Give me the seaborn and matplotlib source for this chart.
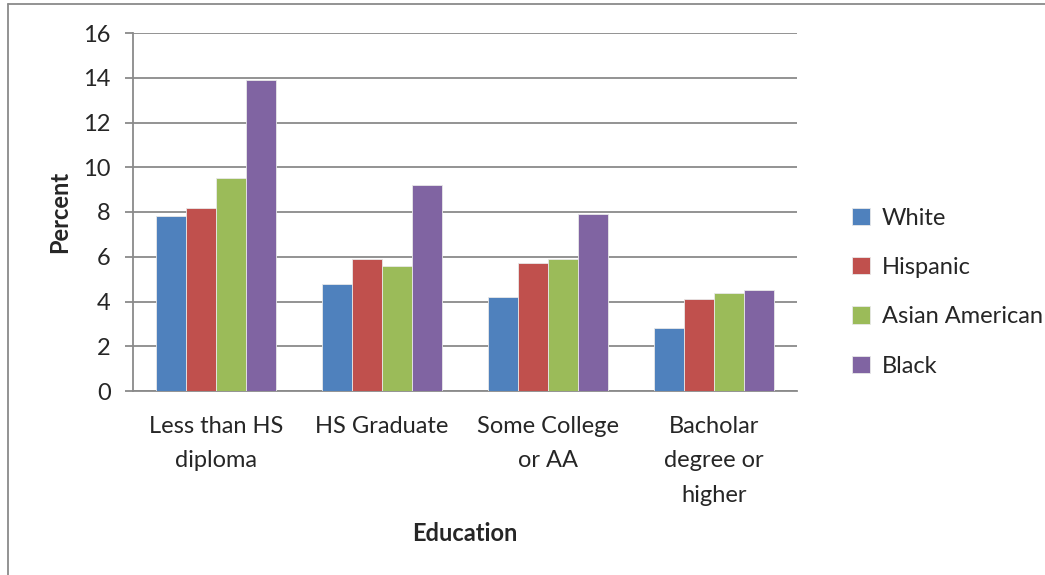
import pandas as pd
import matplotlib.pyplot as plt
import seaborn as sns
from matplotlib.lines import Line2D

# data
education = ['Less than HS\ndiploma', 'HS Graduate', 'Some College\nor AA', 'Bacholar\ndegree or\nhigher']
groups = ['White', 'Hispanic', 'Asian American', 'Black']
white = [7.8, 4.8, 4.2, 2.8]
hispanic = [8.2, 5.9, 5.7, 4.1]
asian = [9.5, 5.6, 5.9, 4.4]
black = [13.9, 9.2, 7.9, 4.5]
colors = ['#4F81BD', '#C0504D', '#9BBB59', '#8064A2']

rows = []
for g, vals in zip(groups, [white, hispanic, asian, black]):
    for e, v in zip(education, vals):
        rows.append({'Education': e, 'Group': g, 'Percent': v})
df = pd.DataFrame(rows)

sns.set_style('white')
plt.rcParams['font.family'] = ['Lato', 'DejaVu Sans']
fs = 17

fig = plt.figure(figsize=(10.45, 5.75), dpi=100)
ax = fig.add_axes([133 / 1045, 1 - 391 / 575, (797 - 133) / 1045, (391 - 33) / 575])

sns.barplot(data=df, x='Education', y='Percent', hue='Group', order=education,
            hue_order=groups, palette=colors, saturation=1, width=0.72, ax=ax,
            edgecolor='#e8e8e8', linewidth=0.6, zorder=3)

ax.set_ylim(0, 16)
ax.set_xlim(-0.5, 3.5)
ax.set_yticks(range(0, 17, 2))
ax.yaxis.grid(True, color='#8a8a8a', linewidth=1.3, zorder=0)
ax.set_axisbelow(True)
for s in ['top', 'right']:
    ax.spines[s].set_visible(False)
for s in ['left', 'bottom']:
    ax.spines[s].set_color('#8a8a8a')
    ax.spines[s].set_linewidth(1.3)
ax.tick_params(axis='y', length=6, width=1.3, color='#8a8a8a', labelsize=fs, pad=10, left=True)
ax.tick_params(axis='x', length=0, labelsize=fs, pad=18)
for lbl in ax.get_xticklabels():
    lbl.set_linespacing(1.78)

ax.set_ylabel('Percent', fontsize=fs, fontweight='bold', labelpad=9)
ax.set_xlabel('Education', fontsize=fs, fontweight='bold', labelpad=12)

ax.legend(loc='center left', bbox_to_anchor=(0.795, 0.492), bbox_transform=fig.transFigure,
          frameon=False, fontsize=fs, handlelength=0.75, handleheight=0.75,
          handletextpad=0.5, labelspacing=1.2)

# chart frame, only top and left edges visible
fig.add_artist(Line2D([8 / 1045, 8 / 1045], [0, 1 - 4 / 575], color='#8a8a8a', linewidth=1.3))
fig.add_artist(Line2D([8 / 1045, 1], [1 - 4 / 575, 1 - 4 / 575], color='#8a8a8a', linewidth=1.3))

fig.savefig('out.png', dpi=100)
